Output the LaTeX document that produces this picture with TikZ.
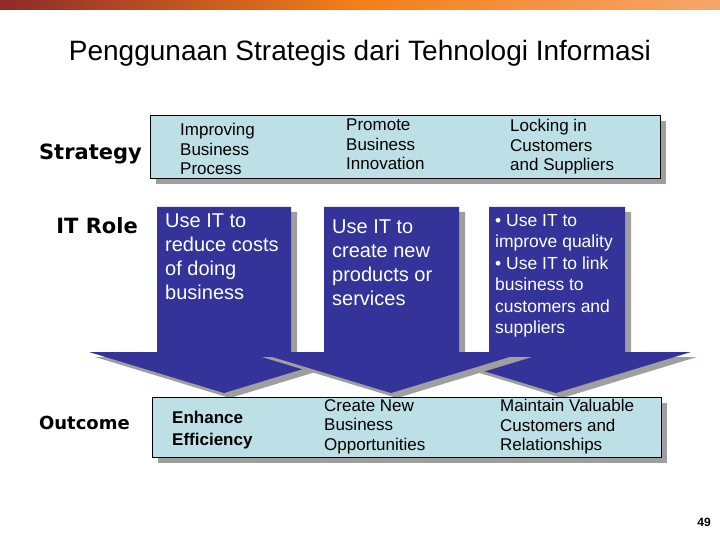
\documentclass[tikz,border=0pt]{standalone}
\usepackage{fontspec}
\setmainfont{Liberation Sans}
\newfontfamily\heavyfont{DejaVu Sans}
\begin{document}
\begin{tikzpicture}[x=1pt,y=-1pt,
  sbox/.style={fill=boxblue,draw=black,line width=0.8pt},
  shad/.style={fill=gray!75},
  arr/.style={fill=navy},
  btxt/.style={anchor=north west,align=left,font=\fontsize{17}{19.5}\selectfont,inner sep=0pt},
  wtxt/.style={anchor=north west,align=left,text=white,font=\fontsize{20}{24}\selectfont,inner sep=0pt},
  lab/.style={anchor=east,font=\heavyfont\bfseries\fontsize{21}{24}\selectfont,inner sep=0pt}]
\definecolor{boxblue}{HTML}{BCE0E5}
\definecolor{navy}{HTML}{333399}
\definecolor{barA}{HTML}{8E2A2A}
\definecolor{barB}{HTML}{F57F17}
\definecolor{barC}{HTML}{F6A66A}
\useasboundingbox (0,0) rectangle (720,540);
\fill[left color=barA,right color=barB] (0,0) rectangle (360,10);
\fill[left color=barB,right color=barC] (360,0) rectangle (720,10);
\node[font=\fontsize{28}{32}\selectfont] (title) at (360,53) {Penggunaan Strategis dari Tehnologi Informasi};
% strategy box
\fill[shad] (156,121) rectangle (666,184);
\draw[sbox] (150,115) rectangle (660,178);
% arrows: shaft left,right, centre
\newcommand{\arrowshape}[3]{(#1,207) -- (#2,207) -- (#2,352) -- (#3+135,352) -- (#3,393) -- (#3-135,352) -- (#1,352) -- cycle}
\fill[shad,shift={(6,5)}] \arrowshape{157}{291}{224};
\fill[arr] \arrowshape{157}{291}{224};
\fill[shad,shift={(6,5)}] \arrowshape{489}{625}{556};
\fill[arr] \arrowshape{489}{625}{556};
\fill[shad,shift={(6,5)}] \arrowshape{324}{459}{391};
\fill[arr] \arrowshape{324}{459}{391};
% outcome box
\fill[shad] (158,403) rectangle (667,463);
\draw[sbox] (152,397) rectangle (661,457);
% labels
\node[lab] (l1) at (142,154) {Strategy};
\node[lab] (l2) at (138,226) {IT Role};
\node[lab,font=\heavyfont\bfseries\fontsize{18}{22}\selectfont] (l3) at (130,423) {Outcome};
% strategy texts
\node[btxt] (s1) at (180,123) {Improving\\Business\\Process};
\node[btxt] (s2) at (346,119) {Promote\\Business\\Innovation};
\node[btxt] (s3) at (510,119) {Locking in\\Customers\\and Suppliers};
% role texts
\node[wtxt] (r1) at (165,214) {Use IT to\\reduce costs\\of doing\\business};
\node[wtxt] (r2) at (332,220) {Use IT to\\create new\\products or\\services};
\node[wtxt,font=\fontsize{17.5}{21.5}\selectfont] (r3) at (495,214) {• Use IT to\\improve quality\\• Use IT to link\\business to\\customers and\\suppliers};
% outcome texts
\node[btxt,font=\bfseries\fontsize{17}{22}\selectfont] (o1) at (172,411) {Enhance\\Efficiency};
\node[btxt] (o2) at (324,399) {Create New\\Business\\Opportunities};
\node[btxt] (o3) at (500,399) {Maintain Valuable\\Customers and\\Relationships};
\node[font=\bfseries\fontsize{12}{14}\selectfont] (pg) at (704,522) {49};
\end{tikzpicture}
\end{document}
